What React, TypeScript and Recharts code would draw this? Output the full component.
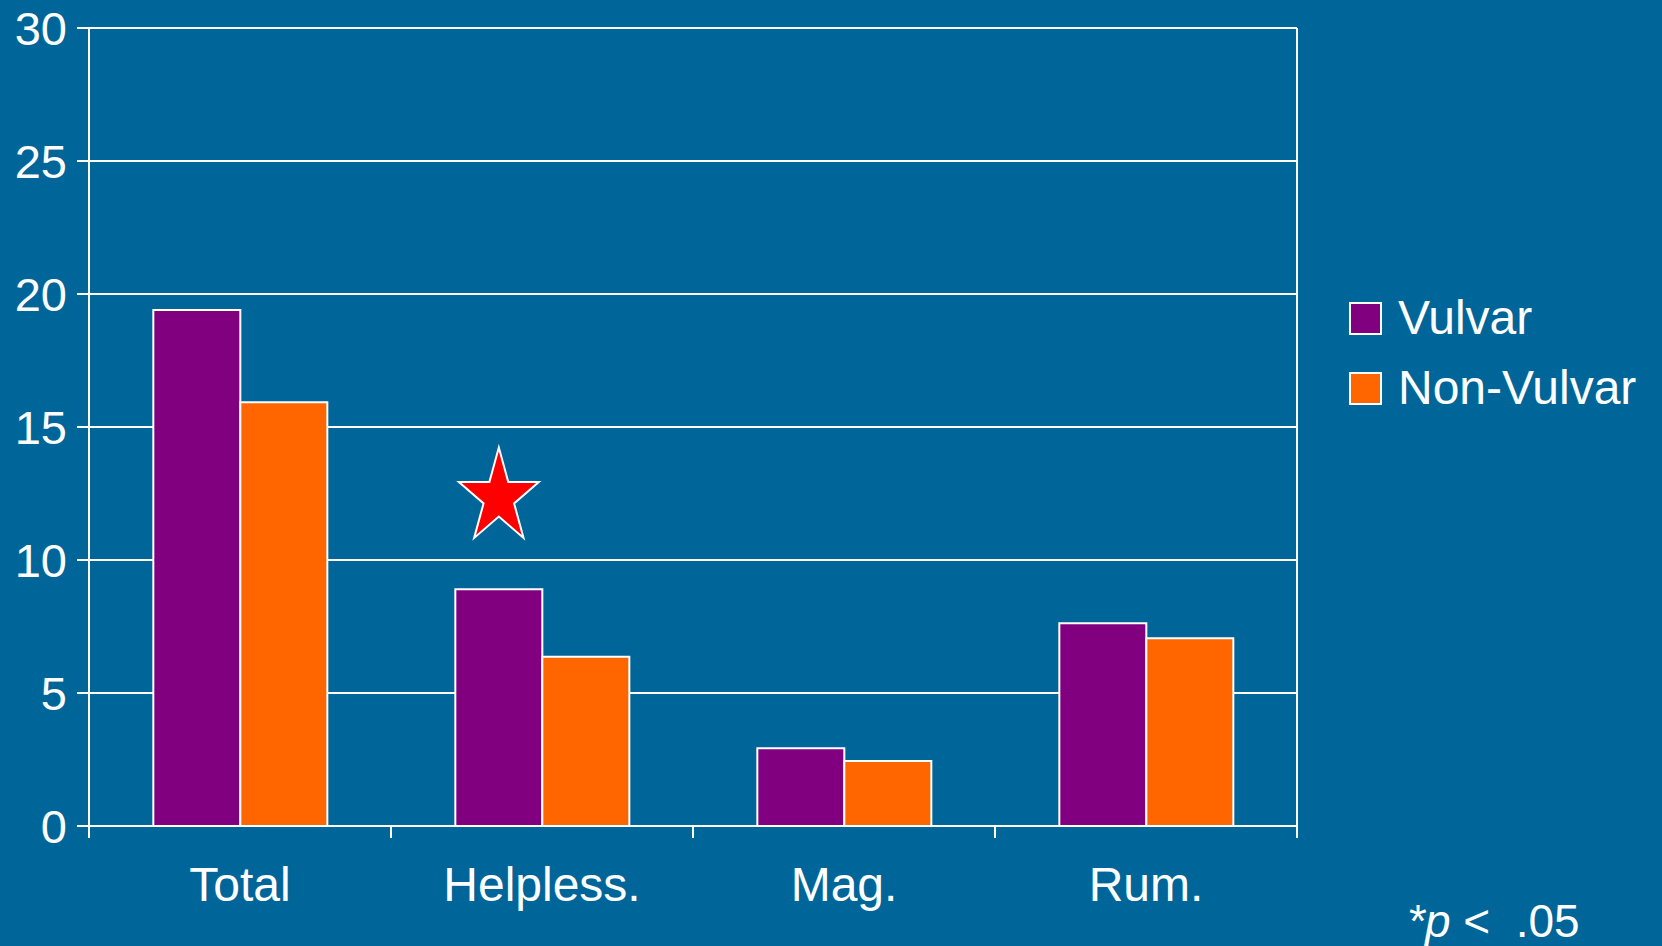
import React from "react";
import {
  BarChart,
  Bar,
  XAxis,
  YAxis,
  CartesianGrid,
  LabelList,
} from "recharts";

const categories = ["Total", "Helpless.", "Mag.", "Rum."];
const vulvar = [19.4, 8.9, 2.92, 7.62];
const nonVulvar = [15.93, 6.36, 2.44, 7.06];
// significance marker (star) height, only on Helpless.
const star = [null, 12.35, null, null];
const yTicks = [0, 5, 10, 15, 20, 25, 30];
const boundaryTicks = [0, 1, 2, 3, 4];

const series = [
  { key: "vulvar", name: "Vulvar", color: "#800080" },
  { key: "nonVulvar", name: "Non-Vulvar", color: "#FF6600" },
];

const data = categories.map((name, i) => ({
  name,
  pos: i,
  vulvar: vulvar[i],
  nonVulvar: nonVulvar[i],
  star: star[i],
}));

const BG = "#006699";
const FONT = "'Liberation Sans', Arial, sans-serif";
const white = { stroke: "#ffffff", strokeWidth: 2 };

function starPoints(cx: number, cy: number, rx: number, ry: number) {
  const pts: string[] = [];
  for (let k = 0; k < 10; k++) {
    const a = -Math.PI / 2 + (k * Math.PI) / 5;
    const f = k % 2 === 0 ? 1 : 0.382;
    pts.push(`${cx + f * rx * Math.cos(a)},${cy + f * ry * Math.sin(a)}`);
  }
  return pts.join(" ");
}

// draws the star above the Vulvar bar, using the bar's own pixel scale
function StarLabel(props: any) {
  const { x, y, width, height, value, index } = props;
  if (value == null || index == null) return null;
  const perUnit = height / vulvar[index];
  const cx = x + width / 2;
  const cy = y + height - value * perUnit;
  return (
    <polygon
      points={starPoints(cx, cy, 42, 50)}
      fill="#FF0000"
      stroke="#ffffff"
      strokeWidth={2}
    />
  );
}

const NoLabel = () => <g />;

export default function App() {
  return (
    <div
      style={{
        position: "absolute",
        left: 0,
        top: 0,
        width: 1662,
        height: 946,
        background: BG,
        fontFamily: FONT,
        overflow: "hidden",
      }}
    >
      <BarChart
        width={1662}
        height={946}
        data={data}
        margin={{ top: 28, right: 364, bottom: 0, left: 0 }}
        barCategoryGap="21.3%"
        barGap={0}
        style={{ fontFamily: FONT }}
      >
        <CartesianGrid vertical={false} stroke="#ffffff" strokeWidth={2} />
        <XAxis
          xAxisId="b"
          dataKey="pos"
          type="number"
          domain={[0, 4]}
          ticks={boundaryTicks}
          interval={0}
          allowDataOverflow
          tick={NoLabel}
          height={12}
          tickSize={12}
          axisLine={white}
          tickLine={white}
        />
        <XAxis
          xAxisId="cat"
          dataKey="name"
          height={108}
          axisLine={false}
          tickLine={false}
          tickSize={0}
          tickMargin={29}
          tick={{ fill: "#ffffff", fontSize: 48 }}
        />
        <YAxis
          domain={[0, 30]}
          ticks={yTicks}
          width={89}
          tickSize={12}
          tickMargin={10}
          axisLine={white}
          tickLine={white}
          tick={{ fill: "#ffffff", fontSize: 47 }}
        />
        <YAxis
          yAxisId="r"
          orientation="right"
          domain={[0, 30]}
          width={1}
          tick={false}
          tickLine={false}
          axisLine={white}
        />
        {series.map((s) => (
          <Bar
            key={s.key}
            xAxisId="cat"
            dataKey={s.key}
            name={s.name}
            fill={s.color}
            stroke="#ffffff"
            strokeWidth={2}
            isAnimationActive={false}
          >
            {s.key === "vulvar" && (
              <LabelList dataKey="star" content={StarLabel} />
            )}
          </Bar>
        ))}
      </BarChart>

      <div style={{ position: "absolute", left: 1349, top: 283 }}>
        {series.map((s) => (
          <div
            key={s.key}
            style={{ display: "flex", alignItems: "center", height: 70 }}
          >
            <div
              style={{
                width: 33,
                height: 33,
                boxSizing: "border-box",
                border: "2px solid #ffffff",
                background: s.color,
                marginRight: 16,
              }}
            />
            <span style={{ color: "#ffffff", fontSize: 48, lineHeight: "70px" }}>
              {s.name}
            </span>
          </div>
        ))}
      </div>

      <div
        style={{
          position: "absolute",
          left: 1407,
          top: 898,
          fontSize: 46,
          lineHeight: 1,
          color: "#ffffff",
          whiteSpace: "pre",
        }}
      >
        <i>*p</i>
        {" <  .05"}
      </div>
    </div>
  );
}
